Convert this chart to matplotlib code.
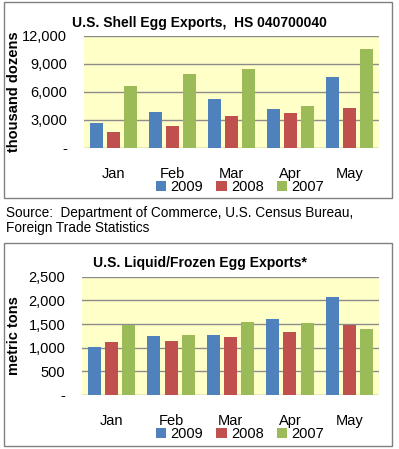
import numpy as np
import matplotlib.pyplot as plt
from matplotlib.patches import Rectangle
from matplotlib.ticker import FuncFormatter

# Datos
months = ['Jan', 'Feb', 'Mar', 'Apr', 'May']
years = ['2009', '2008', '2007']

shell_2009 = [2670, 3880, 5300, 4170, 7620]
shell_2008 = [1750, 2390, 3450, 3770, 4240]
shell_2007 = [6660, 7980, 8440, 4490, 10610]

liquid_2009 = [1005, 1245, 1260, 1605, 2065]
liquid_2008 = [1120, 1135, 1225, 1340, 1485]
liquid_2007 = [1485, 1275, 1540, 1520, 1395]

colors = ['#4F81BD', '#C0504D', '#9BBB59']
bg = '#FFFFC8'

plt.rcParams['font.family'] = ['Liberation Sans', 'DejaVu Sans']

fig = plt.figure(figsize=(3.99, 4.49), dpi=100)

# Bordes de los paneles
for (y0, y1) in [(2, 198), (243, 446)]:
    fig.patches.append(Rectangle((4 / 399, 1 - y1 / 449), 388 / 399, (y1 - y0) / 449,
                                 transform=fig.transFigure, fill=False,
                                 edgecolor='#808080', linewidth=1.0))

fig.text(6 / 399, 1 - 213 / 449, 'Source:  Department of Commerce, U.S. Census Bureau,',
         fontsize=9.8, va='center', ha='left')
fig.text(6 / 399, 1 - 228 / 449, 'Foreign Trade Statistics',
         fontsize=9.8, va='center', ha='left')


def fmt(v, pos):
    if v == 0:
        return '-'
    return f'{int(v):,}'


def panel(rect, series, ymax, step, title, ylabel, title_y, legend_y):
    ax = fig.add_axes(rect)
    ax.set_facecolor(bg)
    x = np.arange(len(months))
    width = 0.22
    offsets = [-0.29, 0, 0.29]
    for vals, off, c, lab in zip(series, offsets, colors, years):
        ax.bar(x + off, vals, width, color=c, label=lab, edgecolor='none', zorder=3)
    ax.set_xlim(-0.5, len(months) - 0.5)
    ax.set_ylim(0, ymax)
    ax.set_yticks(np.arange(0, ymax + 1, step))
    ax.yaxis.set_major_formatter(FuncFormatter(fmt))
    ax.grid(axis='y', color='#8C8C8C', linewidth=1.0, zorder=1)
    for s in ax.spines.values():
        s.set_visible(False)
    ax.tick_params(axis='both', length=0, labelsize=10.5)
    ax.tick_params(axis='x', pad=14)
    ax.tick_params(axis='y', pad=12)
    ax.set_xticks(x)
    ax.set_xticklabels(months)
    ax.set_ylabel(ylabel, fontsize=10.5, fontweight='bold')
    lab_x = (21 - rect[0] * 399) / (rect[2] * 399)
    ax.yaxis.set_label_coords(lab_x, 0.5)
    fig.text(0.5, 1 - title_y / 449, title, fontsize=10, fontweight='bold',
             ha='center', va='center')
    fig.legend(*ax.get_legend_handles_labels(), loc='center',
               bbox_to_anchor=(240 / 399, 1 - legend_y / 449), ncol=3,
               frameon=False, fontsize=10.5, handlelength=0.7, handleheight=0.7,
               handletextpad=0.3, columnspacing=0.9, borderaxespad=0)
    return ax


panel([84 / 399, 1 - 148 / 449, 295 / 399, 112 / 449],
      [shell_2009, shell_2008, shell_2007], 12000, 3000,
      'U.S. Shell Egg Exports,  HS 040700040', 'thousand dozens', 23, 187)

panel([82 / 399, 1 - 395 / 449, 297 / 399, 118.3 / 449],
      [liquid_2009, liquid_2008, liquid_2007], 2500, 500,
      'U.S. Liquid/Frozen Egg Exports*', 'metric tons', 263, 434)

fig.savefig('out.png', dpi=100)
